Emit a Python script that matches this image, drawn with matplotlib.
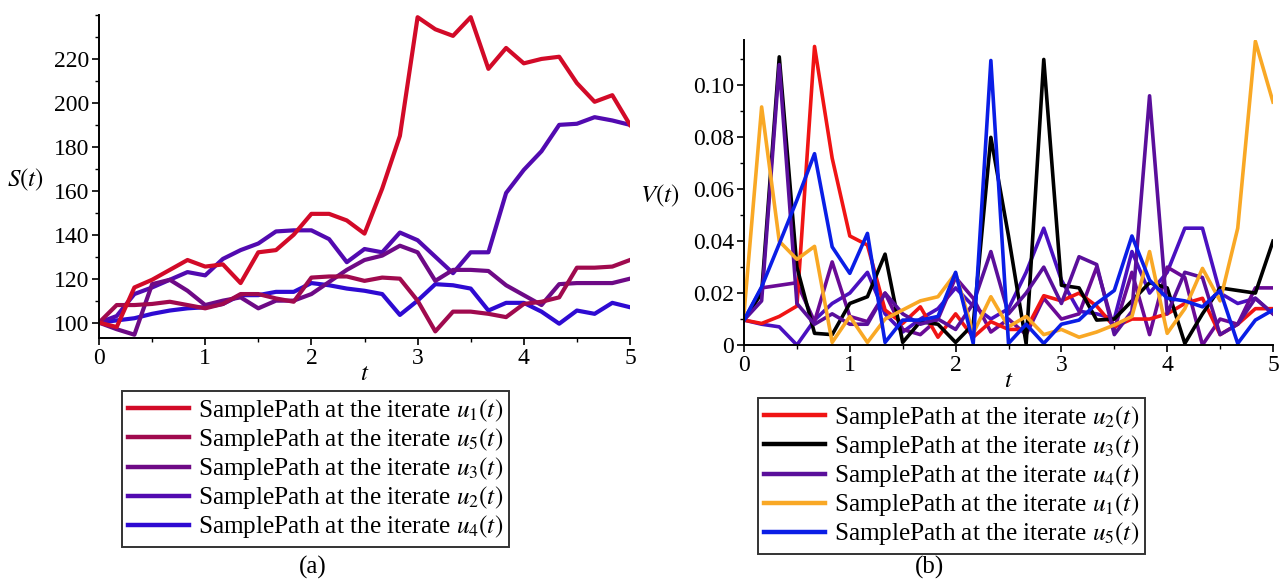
import numpy as np
import matplotlib
matplotlib.use("Agg")
import matplotlib.pyplot as plt
from matplotlib.ticker import MultipleLocator

plt.rcParams["font.family"] = ["Liberation Serif", "DejaVu Serif"]
plt.rcParams["mathtext.fontset"] = "stix"

# time grid (step 1/6)
t = np.linspace(0, 5, 31)

# ---- (a) S(t) sample paths
s_u1 = [100, 98, 116, 119.5, 124, 128.5, 125.5, 126.5, 118, 132, 133, 140, 149.5, 149.5, 146.5, 140.5,
        161, 185, 239, 233.5, 230.5, 239, 215.5, 225, 218, 220, 221, 209, 200.5, 203.5, 190]
s_u5 = [100, 108, 108, 108.5, 109.5, 108, 106.5, 108.5, 113, 113, 111, 109.5, 120.5, 121, 121, 119,
        120.5, 120, 110, 96, 105, 105, 104, 102.5, 108.5, 109.5, 111.5, 125, 125, 125.5, 128.5]
s_u3 = [100, 97, 94.5, 117.5, 119.5, 114.5, 108, 110, 111.5, 106.5, 110, 110, 113, 118.5, 124, 128.5,
        130.5, 135, 132, 119, 124, 124, 123.5, 117, 112.5, 108, 117.5, 118, 118, 118, 120]
s_u2 = [100, 103, 113, 116, 119.5, 123, 121.5, 129, 133, 136, 141.5, 142, 142, 138, 127.5, 133.5,
        132, 141, 137.5, 130, 122.5, 132, 132, 159, 169.5, 178, 190, 190.5, 193.5, 192, 190]
s_u4 = [100, 101, 102, 104, 105.5, 106.5, 107, 108.5, 112.5, 112.5, 114, 114, 118, 117, 115.5, 114.5,
        113, 103.5, 110, 117.5, 117, 115.5, 105.5, 109, 109, 105, 99.5, 105.5, 104, 109, 107]

# ---- (b) V(t) sample paths
v_u2 = [0.0096, 0.0083, 0.011, 0.015, 0.115, 0.072, 0.042, 0.0385, 0.0135, 0.0083, 0.0147, 0.003, 0.012,
        0.003, 0.009, 0.006, 0.006, 0.019, 0.017, 0.020, 0.015, 0.007, 0.010, 0.010, 0.012, 0.016, 0.018,
        0.004, 0.008, 0.014, 0.014]
v_u3 = [0.0096, 0.02, 0.111, 0.03, 0.0045, 0.004, 0.016, 0.0186, 0.035, 0.001, 0.009, 0.008, 0.001, 0.008,
        0.08, 0.042, 0.0005, 0.110, 0.023, 0.022, 0.0096, 0.010, 0.017, 0.024, 0.022, 0.0006, 0.012, 0.022,
        0.021, 0.020, 0.040]
v_u4 = [0.0096, 0.017, 0.108, 0.016, 0.008, 0.012, 0.008, 0.008, 0.020, 0.012, 0.008, 0.010, 0.006, 0.016,
        0.036, 0.012, 0.020, 0.030, 0.016, 0.034, 0.031, 0.004, 0.013, 0.096, 0.012, 0.028, 0.026, 0.004,
        0.008, 0.018, 0.012]
v_u1 = [0.012, 0.0917, 0.040, 0.033, 0.038, 0.001, 0.011, 0.001, 0.010, 0.0135, 0.017, 0.0186, 0.0276,
        0.0045, 0.0186, 0.007, 0.011, 0.004, 0.006, 0.003, 0.005, 0.0077, 0.011, 0.036, 0.0045, 0.014,
        0.0295, 0.017, 0.045, 0.117, 0.0936]
v_u5 = [0.0096, 0.0224, 0.039, 0.0558, 0.0737, 0.0378, 0.0276, 0.043, 0.001, 0.0096, 0.0096, 0.011, 0.028,
        0.0006, 0.1096, 0.0006, 0.008, 0.0006, 0.008, 0.0096, 0.016, 0.021, 0.042, 0.025, 0.018, 0.017,
        0.0147, 0.021, 0.0006, 0.0096, 0.0135]
# extra unlabelled purple paths visible in panel (b)
v_extra1 = [0.0096, 0.008, 0.007, 0.0, 0.0096, 0.016, 0.020, 0.028, 0.012, 0.005, 0.010, 0.014, 0.022,
            0.015, 0.010, 0.014, 0.028, 0.045, 0.025, 0.013, 0.012, 0.010, 0.036, 0.020, 0.028, 0.045,
            0.045, 0.020, 0.016, 0.018, 0.012]
v_extra2 = [0.0096, 0.022, 0.023, 0.024, 0.009, 0.032, 0.011, 0.009, 0.020, 0.006, 0.004, 0.010, 0.026,
            0.018, 0.005, 0.010, 0.004, 0.018, 0.010, 0.012, 0.030, 0.006, 0.028, 0.004, 0.030, 0.026,
            0.000, 0.010, 0.008, 0.022, 0.022]

left_series = [("1", s_u1, "#d20a28"), ("5", s_u5, "#a00a4e"), ("3", s_u3, "#6e0a86"),
               ("2", s_u2, "#520ab0"), ("4", s_u4, "#2e0ad2")]
right_series = [("2", v_u2, "#f01414"), ("3", v_u3, "#000000"), ("4", v_u4, "#5a0f9b"),
                ("1", v_u1, "#f9a825"), ("5", v_u5, "#0a1ee6")]

FS = 17

fig = plt.figure(figsize=(12.82, 5.81), dpi=100)
ax1 = fig.add_axes([99 / 1282, 1 - 338 / 581, 531 / 1282, 323 / 581])
ax2 = fig.add_axes([744 / 1282, 1 - 345 / 581, 529 / 1282, 305 / 581])


def style_axes(ax):
    for side in ["top", "right"]:
        ax.spines[side].set_visible(False)
    for side in ["left", "bottom"]:
        ax.spines[side].set_linewidth(1.4)
    ax.tick_params(which="major", direction="out", length=5, width=1.2, labelsize=FS, pad=2)
    ax.tick_params(which="minor", direction="out", length=3, width=1)
    ax.xaxis.set_major_locator(MultipleLocator(1))
    ax.xaxis.set_minor_locator(MultipleLocator(0.5))


# panel (a)
for name, vals, col in reversed(left_series):
    ax1.plot(t, vals, color=col, lw=3.0)
handles1 = [plt.Line2D([], [], color=col, lw=3.2) for name, vals, col in left_series]
ax1.set_xlim(0, 5)
ax1.set_ylim(93, 240)
ax1.yaxis.set_minor_locator(MultipleLocator(10))
style_axes(ax1)
ax1.set_yticks([100, 120, 140, 160, 180, 200, 220])
ax1.set_xlabel("$t$", fontsize=FS + 1, labelpad=-4)
ax1.set_ylabel("$S(t)$", fontsize=FS + 1, rotation=0, ha="center", va="center")
ax1.yaxis.set_label_coords(-0.139, 0.49)

# panel (b)
ax2.plot(t, v_extra1, color="#4a10c0", lw=2.6)
ax2.plot(t, v_extra2, color="#6a0a96", lw=2.6)
for name, vals, col in right_series:
    ax2.plot(t, vals, color=col, lw=2.6)
handles2 = [plt.Line2D([], [], color=col, lw=3.2) for name, vals, col in right_series]
ax2.set_xlim(0, 5)
ax2.set_ylim(0, 0.1175)
style_axes(ax2)
ax2.yaxis.set_minor_locator(MultipleLocator(0.01))
ax2.set_yticks([0, 0.02, 0.04, 0.06, 0.08, 0.10], ["0", "0.02", "0.04", "0.06", "0.08", "0.10"])
ax2.set_xlabel("$t$", fontsize=FS + 1, labelpad=-4)
ax2.set_ylabel("$V(t)$", fontsize=FS + 1, rotation=0, ha="center", va="center")
ax2.yaxis.set_label_coords(-0.159, 0.49)

leg_kw = dict(loc="upper left", fontsize=18.2, frameon=True, fancybox=False, edgecolor="#333333",
              framealpha=1, borderpad=0.25, labelspacing=0.08, handlelength=2.4, handletextpad=0.35,
              borderaxespad=0)
labels1 = ["SamplePath at the iterate $u_{%s}(t)$" % n for n, v, c in left_series]
labels2 = ["SamplePath at the iterate $u_{%s}(t)$" % n for n, v, c in right_series]
lg1 = fig.legend(handles1, labels1, bbox_to_anchor=(122 / 1282, 1 - 391 / 581), **leg_kw)
lg2 = fig.legend(handles2, labels2, bbox_to_anchor=(758 / 1282, 1 - 398 / 581), **leg_kw)
for lg in (lg1, lg2):
    lg.get_frame().set_linewidth(1.4)

fig.text(313 / 1282, 1 - 567 / 581, "(a)", fontsize=FS + 1, ha="center", va="center")
fig.text(930 / 1282, 1 - 567 / 581, "(b)", fontsize=FS + 1, ha="center", va="center")

fig.savefig("out.png", dpi=100)
